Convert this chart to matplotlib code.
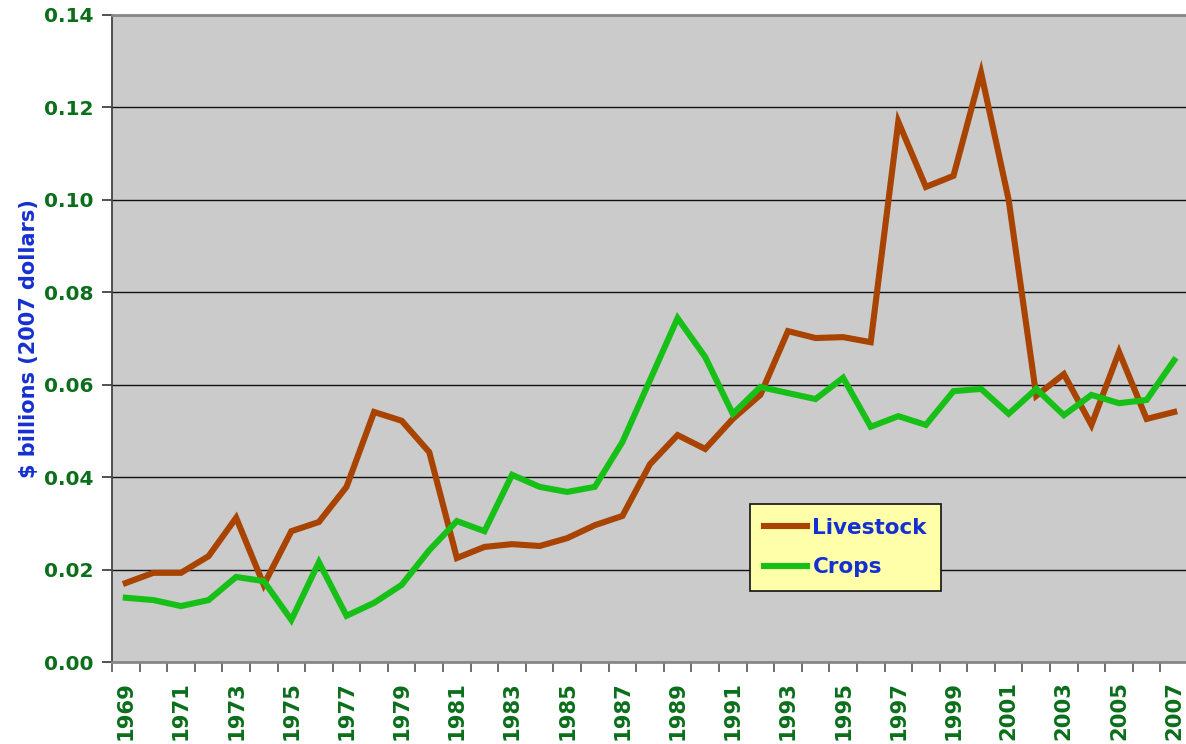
import matplotlib
matplotlib.use("Agg")
import matplotlib.pyplot as plt
import numpy as np

years = list(range(1969, 2008))
livestock = [0.0171, 0.0193, 0.0193, 0.0229, 0.0312, 0.0167, 0.0283, 0.0303, 0.0379, 0.0541,
             0.0522, 0.0454, 0.0225, 0.0249, 0.0255, 0.0251, 0.0268, 0.0296, 0.0316, 0.0428,
             0.0491, 0.0461, 0.0526, 0.0578, 0.0716, 0.0701, 0.0703, 0.0692, 0.1169, 0.1028,
             0.1052, 0.1275, 0.1000, 0.0576, 0.0623, 0.0513, 0.0671, 0.0526, 0.0541]
crops = [0.0139, 0.0134, 0.0121, 0.0134, 0.0184, 0.0175, 0.0091, 0.0216, 0.0100, 0.0128,
         0.0167, 0.0242, 0.0305, 0.0283, 0.0405, 0.0379, 0.0368, 0.0379, 0.0476, 0.0610,
         0.0744, 0.0660, 0.0537, 0.0595, 0.0582, 0.0569, 0.0615, 0.0509, 0.0532, 0.0513,
         0.0586, 0.0591, 0.0537, 0.0591, 0.0534, 0.0578, 0.0560, 0.0567, 0.0653]
series_names = ["Livestock", "Crops"]
y_ticks = [0.00, 0.02, 0.04, 0.06, 0.08, 0.10, 0.12, 0.14]

tick_green = "#0a6e1a"
label_blue = "#1530d0"

fig = plt.figure(figsize=(11.86, 7.44), dpi=100)
ax = fig.add_axes([112/1186, 1-662/744, 1076/1186, 647/744])
ax.set_facecolor("#cbcbcb")

x = np.arange(len(years))
ax.plot(x, livestock, color="#a84400", lw=4.4, solid_joinstyle="miter", label=series_names[0], zorder=3)
ax.plot(x, crops, color="#17c017", lw=4.4, solid_joinstyle="miter", label=series_names[1], zorder=3)

ax.set_xlim(-0.5, len(years) - 0.5)
ax.set_ylim(0, 0.14)
ax.set_yticks(y_ticks)
ax.set_yticklabels([f"{v:.2f}" for v in y_ticks], fontsize=14.5, fontweight="bold", color=tick_green)
ax.yaxis.grid(True, color="#111111", lw=1.0)
ax.set_axisbelow(True)

ax.set_xticks(np.arange(len(years) + 1) - 0.5)
ax.set_xticklabels([])
ax.set_xticks(x[::2], minor=True)
ax.set_xticklabels([str(y) for y in years[::2]], minor=True, rotation=90,
                   fontsize=15.2, fontweight="bold", color=tick_green)
ax.tick_params(axis="x", which="major", length=7, color="#555555", width=1.2, direction="out")
ax.tick_params(axis="x", which="minor", length=0, pad=14)
ax.tick_params(axis="y", length=7, color="#333333", width=1.2, pad=6)

ax.spines["left"].set_color("#444444"); ax.spines["left"].set_linewidth(1.3)
for s in ["top", "bottom"]:
    ax.spines[s].set_color("#888888"); ax.spines[s].set_linewidth(2)
ax.spines["right"].set_visible(False)

ax.set_ylabel("$ billions (2007 dollars)", fontsize=15, fontweight="bold", color=label_blue, labelpad=4)

leg = ax.legend(loc="upper left", bbox_to_anchor=(750/1186, 1-504/744), bbox_transform=fig.transFigure,
                frameon=True, fancybox=False, facecolor="#ffffaa", edgecolor="#111111",
                prop={"size": 15.5, "weight": "bold"}, handlelength=2.0, handletextpad=0.25,
                labelspacing=0.9, borderpad=0.65, borderaxespad=0)
leg.get_frame().set_linewidth(1.2)
leg.get_frame().set_alpha(1)
for t in leg.get_texts():
    t.set_color(label_blue)

fig.savefig("out.png", dpi=100)
